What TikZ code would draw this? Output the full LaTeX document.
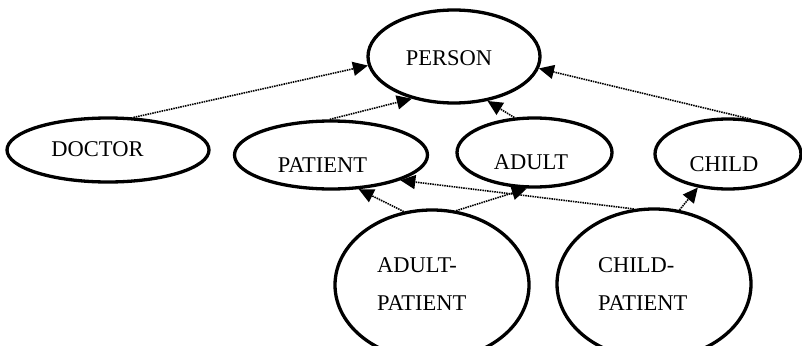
\documentclass[tikz,border=0pt]{standalone}
\usepackage{fontspec}
\setmainfont{Liberation Serif}
\usetikzlibrary{shapes.geometric,arrows.meta}

\tikzset{
  concept/.style={ellipse, draw=black, line width=3.3pt, inner sep=0pt},
  conceptname/.style={inner sep=0pt, font=\fontsize{22.5pt}{38.5pt}\selectfont},
  isa/.style={line width=1.6pt, dash pattern=on 1.5pt off 0.9pt,
    -{Triangle[length=15pt,width=14pt]}}
}

\begin{document}
\begin{tikzpicture}[x=1pt,y=-1pt]
  \useasboundingbox (0,0) rectangle (802,345);
  \clip (0,0) rectangle (802,345);

  % concepts
  \node[concept, minimum width=172pt, minimum height=93pt] (person)  at (454,56.5) {};
  \node[concept, minimum width=202pt, minimum height=64pt] (doctor)  at (108,150) {};
  \node[concept, minimum width=193pt, minimum height=68pt] (patient) at (331,155) {};
  \node[concept, minimum width=155pt, minimum height=69pt] (adult)   at (534.5,152.5) {};
  \node[concept, minimum width=146pt, minimum height=70pt] (child)   at (728,154) {};
  \node[concept, minimum width=194pt, minimum height=150pt] (adultpatient) at (432,285) {};
  \node[concept, minimum width=194pt, minimum height=150pt] (childpatient) at (654,284) {};

  % concept names
  \node[conceptname] (person-name)  at (449,58)  {PERSON};
  \node[conceptname] (doctor-name)  at (97.5,149) {DOCTOR};
  \node[conceptname] (patient-name) at (322.5,165) {PATIENT};
  \node[conceptname] (adult-name)   at (531,162) {ADULT};
  \node[conceptname] (child-name)   at (724,164) {CHILD};
  \node[conceptname, align=left, anchor=north west] (adultpatient-name) at (377,257) {ADULT-\\PATIENT};
  \node[conceptname, align=left, anchor=north west] (childpatient-name) at (598,257) {CHILD-\\PATIENT};

  % is-a links
  \draw[isa] (doctor.52)        -- (person.186);
  \draw[isa] (patient.92)       -- (person.225);
  \draw[isa] (adult.120)        -- (person.307);
  \draw[isa] (child.57)         -- (person.352);
  \draw[isa] (adultpatient.111) -- (patient.309);
  \draw[isa] (adultpatient.72)  -- (adult.258);
  \draw[isa] (childpatient.105) -- (patient.340);
  \draw[isa] (childpatient.71)  -- (child.228);
\end{tikzpicture}
\end{document}
